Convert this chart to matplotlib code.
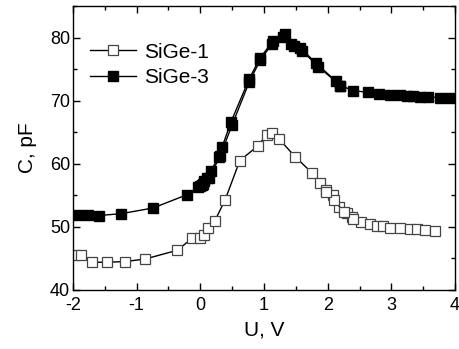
import numpy as np
from matplotlib import pyplot as plt
from matplotlib.ticker import MultipleLocator

# SiGe-1, open squares (forward sweep + return branch)
sige1_u = [-1.97, -1.88, -1.70, -1.46, -1.19, -0.87, -0.36, -0.13, 0.0, 0.05, 0.12, 0.23,
           0.39, 0.62, 0.90, 1.04, 1.13, 1.24, 1.49, 1.76, 1.88, 1.97, 2.09, 2.18, 2.30,
           2.39, 2.53, 2.66, 2.77, 2.87, 2.98, 3.13, 3.29, 3.40, 3.53, 3.68]
sige1_c = [45.6, 45.5, 44.4, 44.4, 44.5, 44.9, 46.3, 48.2, 48.2, 48.7, 49.8, 51.0,
           54.3, 60.5, 62.8, 64.6, 64.8, 63.9, 61.1, 58.5, 57.0, 55.8, 55.1, 53.2, 52.2,
           51.6, 50.8, 50.5, 50.2, 50.1, 49.9, 49.8, 49.6, 49.6, 49.5, 49.4]
sige1_u_back = [2.40, 2.25, 2.10, 1.98]
sige1_c_back = [51.3, 52.4, 54.3, 55.6]

# SiGe-3, filled squares
sige3_u = [-1.92, -1.76, -1.59, -1.24, -0.74, -0.21, -0.03, 0.0, 0.02, 0.06, 0.10, 0.16,
           0.29, 0.34, 0.48, 0.77, 0.94, 1.14, 1.33, 1.43, 1.57, 1.82, 2.13, 2.20, 2.40,
           2.64, 2.81, 2.98, 3.13, 3.24, 3.34, 3.45, 3.58, 3.76, 3.92]
sige3_c = [51.9, 51.9, 51.8, 52.1, 53.0, 55.1, 56.3, 56.5, 56.7, 57.2, 57.7, 58.8,
           61.1, 62.6, 66.6, 73.5, 76.8, 79.4, 80.5, 79.0, 78.4, 75.9, 73.1, 72.4, 71.6,
           71.3, 71.1, 70.9, 70.9, 70.7, 70.7, 70.6, 70.6, 70.5, 70.4]
sige3_u_back = [2.20, 1.85, 1.60, 1.47, 1.30, 1.12, 0.94, 0.77, 0.50, 0.31, 0.14, 0.04]
sige3_c_back = [72.4, 75.4, 77.9, 78.6, 80.1, 78.9, 76.4, 73.0, 66.2, 61.2, 57.8, 56.8]

plt.rcParams['font.family'] = ['Liberation Sans', 'DejaVu Sans']
plt.rcParams['axes.unicode_minus'] = False

fig = plt.figure(figsize=(4.59, 3.49), dpi=100)
ax = fig.add_axes([73 / 459, 59 / 349, 382 / 459, 284 / 349])

ax.plot(sige1_u, sige1_c, '-s', color='black', mfc='white', mec='#444444', ms=6.5,
        lw=1, mew=0.9, label='SiGe-1')
ax.plot(sige1_u_back, sige1_c_back, '-s', color='black', mfc='white', mec='#444444',
        ms=6.5, lw=1, mew=0.9)
ax.plot(sige3_u, sige3_c, '-s', color='black', mfc='black', mec='black', ms=6.5,
        lw=1, label='SiGe-3')
ax.plot(sige3_u_back, sige3_c_back, '-s', color='black', mfc='black', mec='black',
        ms=6.5, lw=1)

ax.set_xlim(-2, 4)
ax.set_ylim(40, 85)
ax.xaxis.set_major_locator(MultipleLocator(1))
ax.xaxis.set_minor_locator(MultipleLocator(0.5))
ax.yaxis.set_major_locator(MultipleLocator(10))
ax.yaxis.set_minor_locator(MultipleLocator(5))
ax.tick_params(which='both', direction='in', top=True, right=True, labelsize=13, width=1)
ax.tick_params(which='major', length=5)
ax.tick_params(which='minor', length=3)
ax.tick_params(axis='x', pad=5)
ax.tick_params(axis='y', pad=2)
for s in ax.spines.values():
    s.set_linewidth(1)

ax.set_xlabel('U, V', fontsize=15, labelpad=5)
ax.set_ylabel('C, pF', fontsize=15, labelpad=9)

ax.legend(loc='upper left', frameon=False, fontsize=15, handlelength=2.2,
          handletextpad=0.4, labelspacing=0.3, borderaxespad=0.4,
          bbox_to_anchor=(0.0, 0.93))

fig.savefig('out.png', dpi=100)
